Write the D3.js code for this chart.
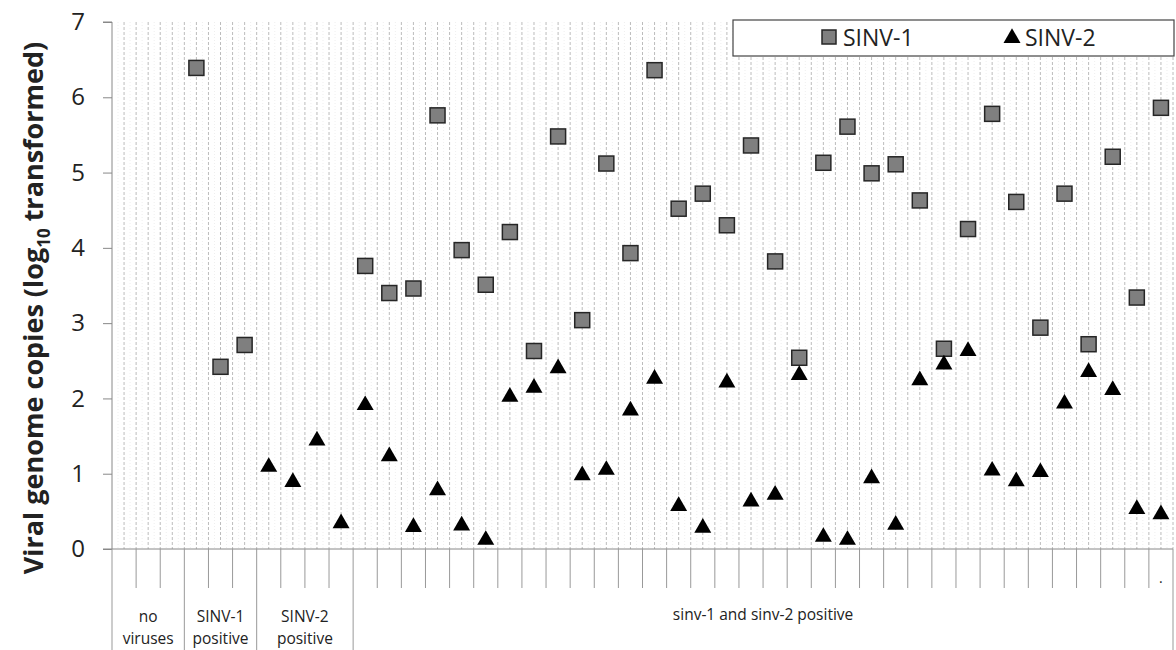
<!DOCTYPE html>
<html>
<head>
<meta charset="utf-8">
<script src="https://cdnjs.cloudflare.com/ajax/libs/d3/7.8.5/d3.min.js"></script>
<style>
  body { margin: 0; background: #fff; }
  text { font-family: "Open Sans", sans-serif; fill: #222; }
</style>
</head>
<body>
<div id="chart"></div>
<script>
// one entry per sample, null = not detected
var sinv1 = [null, null, null, 6.39, 2.42, 2.71, null, null, null, null,
  3.76, 3.40, 3.46, 5.76, 3.97, 3.51, 4.21, 2.63, 5.48, 3.04,
  5.12, 3.93, 6.36, 4.52, 4.72, 4.30, 5.36, 3.82, 2.54, 5.13,
  5.61, 4.99, 5.11, 4.63, 2.66, 4.25, 5.78, 4.61, 2.94, 4.72,
  2.72, 5.21, 3.34, 5.86]

var sinv2 = [null, null, null, null, null, null, 1.09, 0.89, 1.44, 0.34,
  1.91, 1.23, 0.29, 0.78, 0.31, 0.12, 2.02, 2.14, 2.40, 0.98,
  1.05, 1.84, 2.26, 0.57, 0.28, 2.21, 0.63, 0.72, 2.31, 0.16,
  0.12, 0.94, 0.32, 2.24, 2.45, 2.63, 1.04, 0.90, 1.02, 1.93,
  2.35, 2.11, 0.53, 0.46]

var groupNames = [['no', 'viruses'], ['SINV-1', 'positive'], ['SINV-2', 'positive'], ['sinv-1 and sinv-2 positive']]
var groupSizes = [3, 3, 4, 34]
var yTicks = [0, 1, 2, 3, 4, 5, 6, 7]
var seriesNames = ['SINV-1', 'SINV-2']

var W = 1176, H = 650
var pLeft = 112, pRight = 1173, pTop = 22, pBase = 549

var svg = d3.select('#chart').append('svg').attr('width', W).attr('height', H)

var idx = d3.range(sinv1.length)
var x = d3.scaleBand().domain(idx).range([pLeft, pRight]).padding(0)
var y = d3.scaleLinear().domain([0, 7]).range([pBase, pTop])
var bw = x.bandwidth()
var cx = function(i){ return x(i) + bw / 2 }

// faint dotted texture + dashed gridlines at edges and centres of each category
var grid = svg.append('g')
idx.forEach(function(i){
  [0.25, 0.75].forEach(function(f){
    grid.append('line')
      .attr('x1', x(i) + bw * f).attr('x2', x(i) + bw * f)
      .attr('y1', pTop).attr('y2', pBase)
      .attr('stroke', '#efefef').attr('stroke-dasharray', '1,2')
  })
  var xs = i == 0 ? [cx(i)] : [x(i), cx(i)]
  xs.forEach(function(gx){
    grid.append('line')
      .attr('x1', gx).attr('x2', gx)
      .attr('y1', pTop).attr('y2', pBase)
      .attr('stroke', '#bcbcbc').attr('stroke-dasharray', '3,2')
  })
})
grid.append('line')
  .attr('x1', pRight).attr('x2', pRight).attr('y1', pTop).attr('y2', pBase)
  .attr('stroke', '#bcbcbc').attr('stroke-dasharray', '3,2')

// y axis
var yAxis = d3.axisLeft(y).tickValues(yTicks).tickSize(9).tickPadding(18).tickFormat(d3.format('d'))
var ya = svg.append('g').attr('transform', 'translate(' + pLeft + ',0)').call(yAxis)
ya.select('.domain').attr('stroke', '#888').attr('d', 'M-9,' + pTop + 'H0V' + pBase)
ya.selectAll('.tick line').attr('stroke', '#888')
ya.selectAll('.tick text').style('font-size', '24px').style('font-family', '"Open Sans", sans-serif').attr('fill', '#222')

// x axis: category ticks and group boxes
var xa = svg.append('g')
xa.append('line').attr('x1', pLeft - 9).attr('x2', pRight).attr('y1', pBase).attr('y2', pBase).attr('stroke', '#888')

var bounds = [0]
groupSizes.forEach(function(n, g){ bounds.push(bounds[g] + n) })

idx.forEach(function(i){
  if (bounds.indexOf(i) >= 0) return
  xa.append('line').attr('x1', x(i)).attr('x2', x(i)).attr('y1', pBase).attr('y2', pBase + 39).attr('stroke', '#999')
})
bounds.forEach(function(b){
  var bx = b < idx.length ? x(b) : pRight
  xa.append('line').attr('x1', bx).attr('x2', bx).attr('y1', pBase).attr('y2', H).attr('stroke', '#999')
})

groupNames.forEach(function(lines, g){
  var mx = (x(bounds[g]) + (bounds[g + 1] < idx.length ? x(bounds[g + 1]) : pRight)) / 2
  var y0 = lines.length == 1 ? 620 : 622
  lines.forEach(function(s, k){
    xa.append('text').attr('x', mx).attr('y', y0 + k * 22)
      .attr('text-anchor', 'middle').style('font-size', '15.5px').text(s)
  })
})

// label of the last sample
xa.append('text').attr('x', cx(idx.length - 1)).attr('y', 583)
  .attr('text-anchor', 'middle').style('font-size', '14px').text('.')

// y label
var yl = svg.append('text')
  .attr('transform', 'translate(43,308) rotate(-90)')
  .attr('text-anchor', 'middle')
  .style('font-size', '27px').style('font-weight', 'bold')
yl.append('tspan').text('Viral genome copies (log')
yl.append('tspan').attr('dy', 7).style('font-size', '17px').text('10')
yl.append('tspan').attr('dy', -7).text(' transformed)')

// markers
var sq = 15
svg.append('g').selectAll('rect')
  .data(idx.filter(function(i){ return sinv1[i] != null }))
  .enter().append('rect')
  .attr('x', function(i){ return cx(i) - sq / 2 })
  .attr('y', function(i){ return y(sinv1[i]) - sq / 2 })
  .attr('width', sq).attr('height', sq)
  .attr('fill', '#7f7f7f').attr('stroke', '#262626').attr('stroke-width', 1.5)

var tri = d3.symbol().type(d3.symbolTriangle).size(125)
svg.append('g').selectAll('path')
  .data(idx.filter(function(i){ return sinv2[i] != null }))
  .enter().append('path')
  .attr('d', tri)
  .attr('transform', function(i){ return 'translate(' + cx(i) + ',' + y(sinv2[i]) + ')' })
  .attr('fill', '#000')

// legend
var lg = svg.append('g')
lg.append('rect').attr('x', 733).attr('y', 20).attr('width', 441).attr('height', 36)
  .attr('fill', '#fff').attr('stroke', '#444').attr('stroke-width', 1.2)
lg.append('rect').attr('x', 822).attr('y', 30).attr('width', 14).attr('height', 14)
  .attr('fill', '#7f7f7f').attr('stroke', '#262626').attr('stroke-width', 1.5)
lg.append('text').attr('x', 843).attr('y', 46).style('font-size', '23px').text(seriesNames[0])
lg.append('path').attr('d', tri).attr('transform', 'translate(1012,38)').attr('fill', '#000')
lg.append('text').attr('x', 1025).attr('y', 46).style('font-size', '23px').text(seriesNames[1])
</script>
</body>
</html>
